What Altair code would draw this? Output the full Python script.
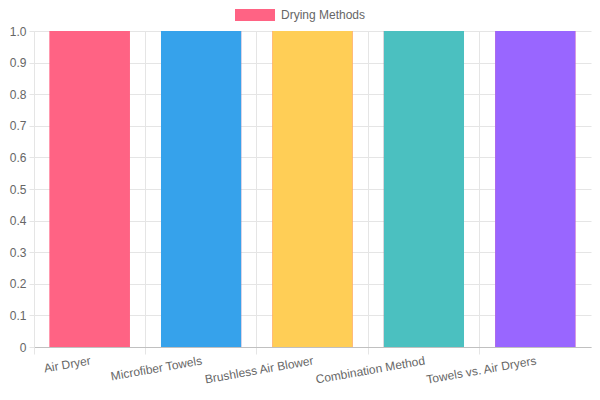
import altair as alt
import pandas as pd

categories = ["Air Dryer", "Microfiber Towels", "Brushless Air Blower",
              "Combination Method", "Towels vs. Air Dryers"]
values = [1, 1, 1, 1, 1]
series_name = "Drying Methods"
bar_colors = ["#FF6384", "#36A2EB", "#FFCE56", "#4BC0C0", "#9966FF"]
y_ticks = [0, 0.1, 0.2, 0.3, 0.4, 0.5, 0.6, 0.7, 0.8, 0.9, 1.0]

df = pd.DataFrame({
    "category": categories,
    "value": values,
    "series": [series_name] * len(categories),
})

FONT = "Liberation Sans"
GRID = "#e5e5e5"
TXT = "#666666"

x_enc = alt.X(
    "category:N", sort=categories,
    scale=alt.Scale(paddingInner=0, paddingOuter=0),
    axis=alt.Axis(title=None, bandPosition=0, labelAngle=350,
                  labelAlign="right", labelBaseline="top", labelPadding=1,
                  tickSize=7, grid=True, gridColor=GRID, tickColor=GRID,
                  domainColor="#c0c0c0", labelColor=TXT, labelFontSize=12,
                  labelFont=FONT),
)
y_enc = alt.Y(
    "value:Q",
    scale=alt.Scale(domain=[0, 1], nice=False),
    axis=alt.Axis(title=None, values=y_ticks,
                  labelExpr="datum.value == 0 ? '0' : format(datum.value, '.1f')",
                  tickSize=5, labelPadding=3, gridColor=GRID, tickColor=GRID,
                  domainColor=GRID, labelColor=TXT, labelFontSize=12,
                  labelFont=FONT),
)

legend_layer = alt.Chart(df).mark_bar(width=alt.RelativeBandSize(0.72)).encode(
    x=x_enc, y=y_enc,
    fill=alt.Fill("series:N", scale=alt.Scale(range=[bar_colors[0]]),
                  legend=alt.Legend(title=None, orient="none", legendX=201, legendY=-36,
                                    symbolType="M-1,-0.3H1V0.3H-1Z", symbolSize=1600,
                                    symbolStrokeWidth=0, labelFontSize=12,
                                    labelColor=TXT, labelFont=FONT, labelOffset=6,
                                    padding=0)),
)

bars = alt.Chart(df).mark_bar(width=alt.RelativeBandSize(0.72)).encode(
    x=x_enc, y=y_enc,
    color=alt.Color("category:N", sort=categories,
                    scale=alt.Scale(domain=categories, range=bar_colors),
                    legend=None),
)

chart = alt.layer(legend_layer, bars).properties(
    width=557, height=316,
    autosize=alt.AutoSizeParams(type="none"),
    padding={"left": 26, "top": 23, "right": 1, "bottom": 40},
    background="white",
).configure_view(stroke=None)

chart.save("out.html", embed_options={"renderer": "svg", "actions": False})
